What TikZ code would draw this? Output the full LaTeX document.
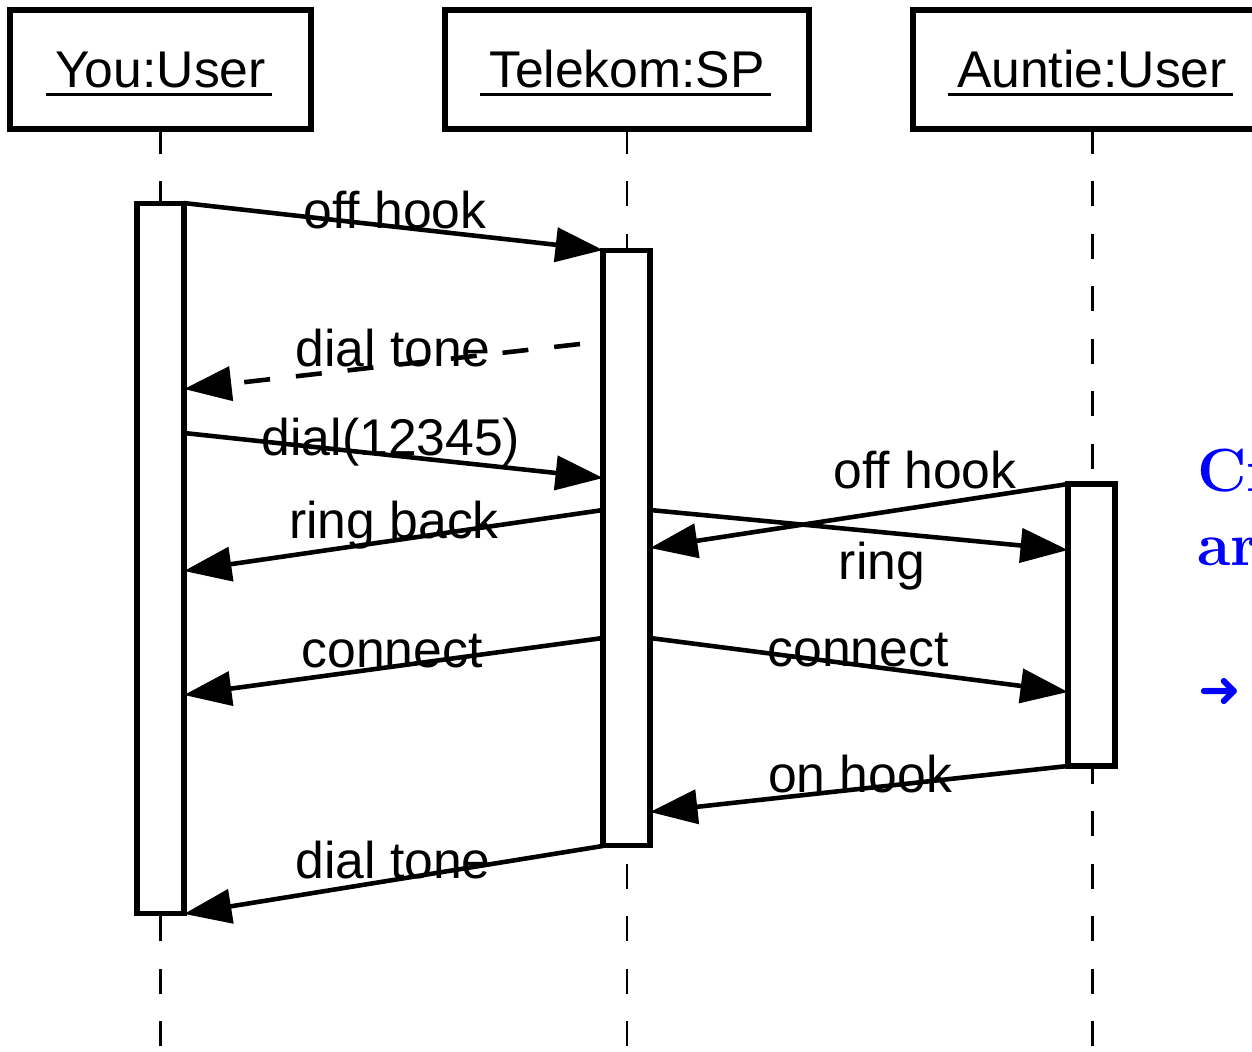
\documentclass[tikz,border=0pt]{standalone}
\usepackage{fontspec}
\newfontfamily\diagfont{Liberation Sans}
\newfontfamily\arrowfont{DejaVu Sans}
\usetikzlibrary{arrows.meta,positioning}

\tikzset{
  actor/.style={draw, line width=3.8pt, minimum width=#1, minimum height=2.38cm, inner sep=0pt, outer sep=0pt},
  actorname/.style={font=\diagfont\fontsize{29.4}{35}\selectfont, inner sep=0pt},
  bar/.style={draw, fill=white, line width=2.9pt, minimum width=0.94cm, inner sep=0pt, outer sep=0pt},
  lifeline/.style={line width=1.7pt, dash pattern=on 0.5cm off 0.55cm},
  msg/.style={line width=2.6pt, -{Triangle[length=0.95cm,width=0.68cm]}},
  reply/.style={msg, dash pattern=on 0.52cm off 0.52cm},
  msglabel/.style={font=\diagfont\fontsize{29.4}{35}\selectfont, inner sep=0pt, anchor=base},
  note/.style={text=blue, font=\bfseries\fontsize{34.7}{42}\selectfont, inner sep=0pt, anchor=base west},
}

\begin{document}
\begin{tikzpicture}[x=0.02cm, y=-0.02cm]
  \useasboundingbox (0,0) rectangle (1252,1052);
  \clip (0,0) rectangle (1252,1052);

  % objects
  \node[actor=6.02cm] (you) at (160.5,69.5) {};
  \node[actor=7.28cm] (sp) at (627,69.5) {};
  \node[actor=7.16cm] (auntie) at (1092,69.5) {};
  \node[actorname] (youname) at (you) {You:User};
  \node[actorname] (spname) at (sp) {Telekom:SP};
  \node[actorname] (auntiename) at (auntie) {Auntie:User};
  \foreach \obj in {youname,spname,auntiename}
    \draw[line width=1.7pt] ([shift={(-9,7)}]\obj.base west) -- ([shift={(6,7)}]\obj.base east);

  % lifelines
  \foreach \obj in {you,sp,auntie}
    \draw[lifeline] (\obj.south) -- ++(0,923);

  % activations
  \node[bar, minimum height=14.22cm] (youbar) at (160.5,558.5) {};
  \node[bar, minimum height=11.92cm] (spbar) at (626.5,548) {};
  \node[bar, minimum height=5.64cm] (auntiebar) at (1091.5,625) {};

  % message ends
  \coordinate (sp2) at (580,344);
  \coordinate (you2) at (184,389);
  \coordinate (you3) at (184,433);
  \coordinate (sp3) at (603,478);
  \coordinate (sp4) at (603,510);
  \coordinate (you4) at (184,571);
  \coordinate (sp5) at (650,510);
  \coordinate (au5) at (1068,550);
  \coordinate (sp6) at (650,548);
  \coordinate (sp7) at (603,638);
  \coordinate (you7) at (184,695);
  \coordinate (sp8) at (650,638);
  \coordinate (au8) at (1068,692);
  \coordinate (sp9) at (650,812);

  % messages
  \draw[msg] (youbar.north east) -- (spbar.north west);
  \draw[reply] (sp2) -- (you2);
  \draw[msg] (you3) -- (sp3);
  \draw[msg] (sp4) -- (you4);
  \draw[msg] (sp5) -- (au5);
  \draw[msg] (auntiebar.north west) -- (sp6);
  \draw[msg] (sp7) -- (you7);
  \draw[msg] (sp8) -- (au8);
  \draw[msg] (auntiebar.south west) -- (sp9);
  \draw[msg] (spbar.south west) -- (youbar.south east);

  \node[msglabel] (l1) at (395,228) {off hook};
  \node[msglabel] (l2) at (393,366) {dial tone};
  \node[msglabel] (l3) at (391,455) {dial(12345)};
  \node[msglabel] (l4) at (394,538) {ring back};
  \node[msglabel] (l5) at (882,579) {ring};
  \node[msglabel] (l6) at (925,488) {off hook};
  \node[msglabel] (l7) at (392,667) {connect};
  \node[msglabel] (l8) at (858,666) {connect};
  \node[msglabel] (l9) at (860,792) {on hook};
  \node[msglabel] (l10) at (393,878) {dial tone};

  % side note
  \node[note] (cr) at (1197,491) {Cr};
  \node[note] (ar) at (1197,565) {ar};
  \node[note, font=\arrowfont\fontsize{29}{35}\selectfont] (arr) at (1198,707) {➜};
\end{tikzpicture}
\end{document}
